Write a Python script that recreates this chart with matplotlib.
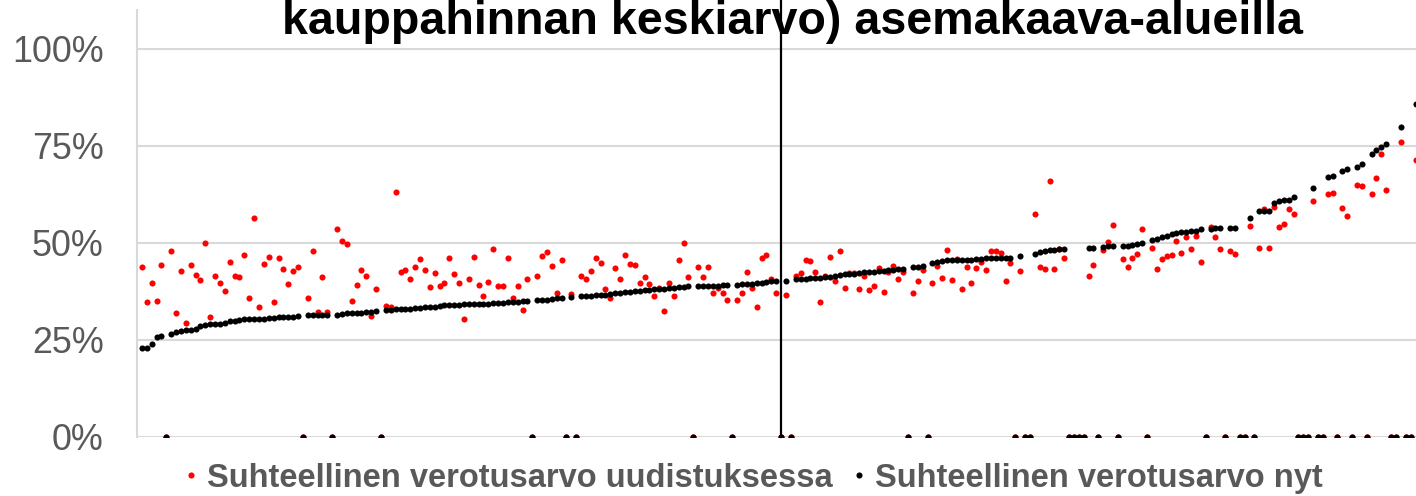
import numpy as np
import matplotlib.pyplot as plt

plt.rcParams['font.family'] = ['Liberation Sans', 'DejaVu Sans']

# relative tax value now (black), sorted; 0 where no value
nyt = [
    23.0, 23.0, 24.0, 25.7, 25.9, 0, 26.6, 27.0, 27.4, 27.6,
    27.6, 27.7, 28.6, 28.9, 29.1, 29.2, 29.2, 29.3, 29.9, 30.0,
    30.2, 30.4, 30.5, 30.5, 30.5, 30.5, 30.6, 30.7, 31.0, 31.0,
    31.0, 31.0, 31.1, 0, 31.3, 31.3, 31.3, 31.3, 31.5, 0,
    31.5, 31.7, 31.9, 31.9, 31.9, 32.0, 32.2, 32.3, 32.5, 0,
    32.8, 32.8, 32.9, 33.0, 33.0, 33.1, 33.2, 33.3, 33.4, 33.4,
    33.5, 33.7, 34.0, 34.1, 34.1, 34.1, 34.2, 34.2, 34.2, 34.3,
    34.3, 34.3, 34.4, 34.5, 34.6, 34.7, 34.8, 34.9, 35.0, 35.1,
    0, 35.3, 35.4, 35.4, 35.5, 35.7, 35.8, 0, 36.0, 0,
    36.2, 36.3, 36.4, 36.5, 36.6, 36.7, 36.8, 37.0, 37.2, 37.3,
    37.4, 37.5, 37.6, 37.8, 37.9, 38.0, 38.1, 38.2, 38.3, 38.5,
    38.6, 38.7, 38.8, 0, 38.8, 38.8, 38.9, 39.0, 39.0, 39.1,
    39.1, 0, 39.2, 39.3, 39.3, 39.4, 39.6, 39.8, 40.0, 40.1,
    40.1, 0, 40.3, 0, 40.7, 40.8, 40.8, 40.9, 41.0, 41.0,
    41.1, 41.2, 41.4, 41.7, 41.9, 42.0, 42.1, 42.2, 42.4, 42.5,
    42.6, 42.7, 42.8, 42.9, 43.1, 43.3, 43.3, 0, 43.7, 43.9,
    44.1, 0, 44.9, 45.2, 45.4, 45.5, 45.5, 45.6, 45.6, 45.7,
    45.7, 45.8, 45.9, 46.0, 46.0, 46.1, 46.1, 46.1, 46.1, 0,
    46.7, 0, 0, 47.2, 47.7, 47.9, 48.1, 48.2, 48.4, 48.5,
    0, 0, 0, 0, 48.6, 48.7, 0, 49.0, 49.1, 49.1,
    0, 49.1, 49.2, 49.4, 49.7, 50.1, 0, 50.8, 50.9, 51.6,
    51.9, 52.2, 52.6, 52.8, 52.9, 53.0, 53.1, 53.6, 0, 53.6,
    53.8, 53.8, 0, 53.9, 53.9, 0, 0, 56.4, 0, 58.1,
    58.2, 58.2, 60.2, 60.7, 61.1, 61.1, 61.7, 0, 0, 0,
    64.2, 0, 0, 66.9, 67.2, 0, 68.4, 69.1, 0, 69.6,
    70.3, 0, 72.9, 74.0, 74.8, 75.5, 0, 0, 79.8, 0,
    0, 85.8,
]

# relative tax value after the reform (red)
uudistus = [
    43.9, 34.9, 39.6, 35.1, 44.3, 0, 47.8, 31.9, 42.8, 29.3,
    44.3, 41.8, 40.5, 50.0, 30.8, 41.4, 39.8, 37.7, 45.1, 41.5,
    41.1, 46.9, 35.8, 56.4, 33.4, 44.6, 46.4, 34.7, 46.1, 43.4,
    39.3, 42.8, 43.7, 0, 35.8, 47.8, 32.3, 41.2, 32.1, 0,
    53.5, 50.5, 49.8, 35.1, 39.2, 43.0, 41.5, 31.2, 38.0, 0,
    33.8, 33.6, 63.2, 42.5, 43.0, 40.6, 43.9, 45.9, 43.1, 38.6,
    42.3, 38.9, 39.8, 46.1, 41.9, 39.8, 30.5, 40.7, 46.4, 39.2,
    36.4, 40.0, 48.4, 38.9, 38.9, 46.2, 35.7, 38.8, 32.6, 40.7,
    0, 41.5, 46.5, 47.6, 44.1, 37.0, 45.7, 0, 36.9, 0,
    41.5, 40.7, 42.8, 46.2, 44.8, 38.0, 35.9, 43.6, 40.7, 47.0,
    44.5, 44.3, 39.6, 41.2, 39.5, 36.3, 38.3, 32.5, 39.8, 36.4,
    45.5, 50.0, 41.1, 0, 43.7, 41.1, 43.7, 37.0, 38.3, 37.0,
    35.2, 0, 35.3, 37.1, 42.6, 38.3, 33.5, 46.2, 46.9, 40.7,
    37.0, 0, 36.7, 0, 41.4, 42.3, 45.6, 45.3, 42.6, 34.8,
    41.6, 46.4, 40.1, 47.9, 38.3, 42.2, 42.2, 38.2, 41.5, 37.8,
    38.9, 43.5, 37.3, 42.4, 44.0, 40.6, 42.5, 0, 37.1, 40.1,
    42.9, 0, 39.8, 44.1, 40.9, 48.2, 40.5, 45.8, 38.0, 43.9,
    39.8, 43.6, 45.0, 43.1, 47.9, 47.9, 47.5, 40.1, 44.9, 0,
    42.8, 0, 0, 57.5, 43.9, 43.2, 66.0, 43.2, 48.5, 46.1,
    0, 0, 0, 0, 41.6, 44.3, 0, 48.2, 50.3, 54.5,
    0, 45.9, 43.9, 46.1, 47.2, 53.6, 0, 48.8, 43.4, 45.8,
    46.7, 46.8, 50.4, 47.4, 51.4, 48.5, 51.8, 45.0, 0, 54.0,
    51.4, 48.4, 0, 47.9, 47.1, 0, 0, 54.3, 0, 48.7,
    58.7, 48.7, 59.2, 54.1, 55.0, 58.7, 57.5, 0, 0, 0,
    60.9, 0, 0, 62.6, 62.9, 0, 58.9, 56.9, 0, 64.8,
    64.6, 0, 62.7, 66.6, 72.9, 63.7, 0, 0, 75.9, 0,
    0, 71.4,
]

line_index = 131
yticks = [0, 25, 50, 75, 100]
labels = ['Suhteellinen verotusarvo uudistuksessa', 'Suhteellinen verotusarvo nyt']
title = 'kauppahinnan keskiarvo) asemakaava-alueilla'

assert len(nyt) == len(uudistus)
x = np.arange(len(nyt))
grey = '#595959'
gridc = '#d9d9d9'

fig = plt.figure(figsize=(14.16, 4.96), dpi=100)
ax = fig.add_axes([137 / 1416, 59 / 496, 1 - 137 / 1416, 427 / 496])

ax.plot(x, uudistus, 'o', color='#ff0000', ms=4.4, mew=0, label=labels[0], zorder=3)
ax.plot(x, nyt, 'o', color='black', ms=4.4, mew=0, label=labels[1], zorder=4)
ax.plot([line_index, line_index], [0, 113], color='black', lw=1.6, clip_on=False, zorder=5)

ax.set_xlim(-1, 261.1)
ax.set_ylim(0, 110)
ax.set_yticks(yticks)
ax.set_yticklabels([f'{v}%' for v in yticks])
ax.tick_params(axis='y', length=0, pad=24, labelsize=25.8, labelcolor=grey)
ax.set_xticks([])
ax.grid(axis='y', color=gridc, lw=1.5)
ax.set_axisbelow(True)
for s in ['top', 'right', 'bottom']:
    ax.spines[s].set_visible(False)
ax.spines['left'].set_color(gridc)
ax.spines['left'].set_linewidth(1.5)

fig.text(0.560, (496 - 34) / 496, title, ha='center', va='baseline',
         fontsize=33.6, fontweight='bold')

leg = fig.legend(loc='center', bbox_to_anchor=(0.532, 0.036), ncol=2, frameon=False,
                 prop={'size': 23.5, 'weight': 'bold'}, labelcolor=grey,
                 handlelength=0.4, handletextpad=0.3, columnspacing=0.6,
                 markerscale=1.0, borderpad=0)

fig.savefig('out.png', dpi=100)
